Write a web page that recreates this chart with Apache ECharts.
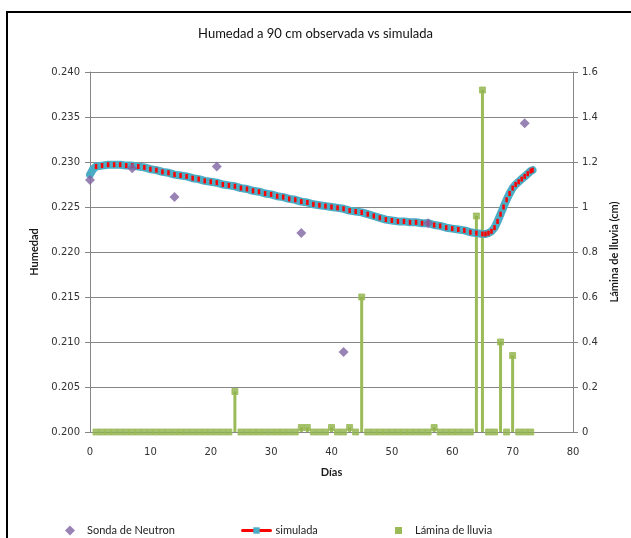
<!DOCTYPE html>
<html>
<head>
<meta charset="utf-8">
<script src="https://cdn.jsdelivr.net/npm/echarts@6/dist/echarts.min.js"></script>
<style>
  html, body { margin: 0; padding: 0; background: #ffffff; }
  #chart { width: 631px; height: 538px; }
</style>
</head>
<body>
<div id="chart"></div>
<script>
// Neutron probe readings (day, soil moisture)
const obsDays   = [0, 7, 14, 21, 35, 42, 56, 72];
const obsValues = [0.2280, 0.2293, 0.2261, 0.2295, 0.2221, 0.2089, 0.2232, 0.2343];

// Simulated soil moisture at 90 cm
const simDays = [0, 0.25, 0.5, 0.75, 1, 2, 3, 4, 5, 6, 7, 8, 9, 10, 11, 12, 13, 14, 15, 16, 17, 18, 19, 20,
  21, 22, 23, 24, 25, 26, 27, 28, 29, 30, 31, 32, 33, 34, 35, 36, 37, 38, 39, 40, 41, 42, 43, 44, 45,
  46, 47, 48, 49, 50, 51, 52, 53, 54, 55, 56, 57, 58, 59, 60, 61, 62, 63, 64, 65, 65.5, 66, 66.5, 67,
  67.5, 68, 68.5, 69, 69.5, 70, 70.5, 71, 71.5, 72, 72.5, 73, 73.3];
const simValues = [0.2286, 0.2289, 0.2292, 0.2294, 0.2295, 0.2296, 0.2297, 0.2297, 0.2297, 0.2296, 0.2296,
  0.2295, 0.2294, 0.2292, 0.2291, 0.2289, 0.2288, 0.2286, 0.2285, 0.2284, 0.2282, 0.2281, 0.2279, 0.2278,
  0.2277, 0.2275, 0.2274, 0.2273, 0.2271, 0.2270, 0.2268, 0.2267, 0.2265, 0.2264, 0.2262, 0.2261, 0.2259,
  0.2258, 0.2256, 0.2255, 0.2253, 0.2252, 0.2251, 0.2250, 0.2249, 0.2248, 0.2246, 0.2245, 0.2244, 0.2242,
  0.2240, 0.2238, 0.2236, 0.2235, 0.2234, 0.2234, 0.2233, 0.2233, 0.2232, 0.2232, 0.2230, 0.2229, 0.2227,
  0.2226, 0.2225, 0.2224, 0.2222, 0.2221, 0.2220, 0.2220, 0.2221, 0.2223, 0.2227, 0.2234, 0.2242, 0.2250,
  0.2258, 0.2265, 0.2271, 0.2275, 0.2278, 0.2281, 0.2284, 0.2287, 0.2290, 0.2291];

// Daily rainfall depth (cm)
const rainDays = [];
for (let d = 1; d <= 73; d++) rainDays.push(d);
const rainEvents = { 24: 0.18, 35: 0.02, 36: 0.02, 40: 0.02, 43: 0.02, 45: 0.60, 57: 0.02,
                     64: 0.96, 65: 1.52, 68: 0.40, 70: 0.34 };
const rainValues = rainDays.map(d => rainEvents[d] || 0);

const leftTicks  = { min: 0.200, max: 0.240, step: 0.005 };
const rightTicks = { min: 0, max: 1.6, step: 0.2 };
const xTicks     = { min: 0, max: 80, step: 10 };

const zip = (a, b) => a.map((v, i) => [v, b[i]]);

const axisGray = '#868686';
const tickFont = { fontFamily: 'DejaVu Sans', fontSize: 10, color: '#333333' };
const nameFont = { fontFamily: 'Lato', fontSize: 11, fontWeight: 'bold', color: '#1a1a1a' };
const legendText = { fontFamily: 'Lato', fontSize: 11, color: '#222222' };

const chart = echarts.init(document.getElementById('chart'), null, { renderer: 'canvas' });

chart.setOption({
  animation: false,
  backgroundColor: '#ffffff',
  title: {
    text: 'Humedad a 90 cm observada vs simulada',
    left: 'center',
    top: 22,
    textStyle: { fontFamily: 'Lato', fontSize: 13, fontWeight: 'normal', color: '#111111' }
  },
  graphic: [{
    type: 'rect',
    shape: { x: 7, y: 12, width: 700, height: 600 },
    style: { fill: 'none', stroke: '#000000', lineWidth: 2 },
    silent: true
  }],
  grid: { left: 90, right: 58, top: 72, bottom: 106 },
  legend: [
    {
      left: 60, top: 520, itemWidth: 10, itemHeight: 10, itemGap: 0,
      textStyle: Object.assign({ padding: [0, 0, 0, 7] }, legendText),
      data: [{ name: 'Sonda de Neutron', icon: 'diamond' }]
    },
    {
      left: 236, top: 520, itemWidth: 28, itemHeight: 8, itemGap: 0,
      textStyle: legendText,
      data: [{
        name: 'simulada',
        lineStyle: { color: '#ff0000', width: 3 },
        itemStyle: { color: '#4bacc6', borderColor: '#4bacc6' }
      }]
    },
    {
      left: 390, top: 520, itemWidth: 7, itemHeight: 7, itemGap: 0,
      textStyle: Object.assign({ padding: [0, 0, 0, 8] }, legendText),
      data: [{ name: 'Lámina de lluvia', icon: 'rect' }]
    }
  ],
  xAxis: {
    type: 'value',
    min: xTicks.min, max: xTicks.max, interval: xTicks.step,
    name: 'Días', nameLocation: 'middle', nameGap: 35,
    nameTextStyle: nameFont,
    axisLine: { show: true, lineStyle: { color: axisGray } },
    axisTick: { show: false },
    splitLine: { show: false },
    axisLabel: Object.assign({ margin: 15 }, tickFont)
  },
  yAxis: [
    {
      type: 'value',
      min: leftTicks.min, max: leftTicks.max, interval: leftTicks.step,
      name: 'Humedad', nameLocation: 'middle', nameGap: 50, nameRotate: 90,
      nameTextStyle: nameFont,
      axisLine: { show: true, lineStyle: { color: axisGray } },
      axisTick: { show: true, length: 5, lineStyle: { color: axisGray } },
      splitLine: { show: true, lineStyle: { color: axisGray, width: 1 } },
      axisLabel: Object.assign({ margin: 10, formatter: v => v.toFixed(3) }, tickFont)
    },
    {
      type: 'value',
      position: 'right',
      min: rightTicks.min, max: rightTicks.max, interval: rightTicks.step,
      name: 'Lámina de lluvia (cm)', nameLocation: 'middle', nameGap: 32, nameRotate: 90,
      nameTextStyle: nameFont,
      axisLine: { show: true, lineStyle: { color: axisGray } },
      axisTick: { show: true, length: 5, lineStyle: { color: axisGray } },
      splitLine: { show: false },
      axisLabel: Object.assign({ margin: 9, formatter: v => String(Math.round(v * 10) / 10) }, tickFont)
    }
  ],
  series: [
    {
      name: 'Lámina de lluvia',
      type: 'bar',
      yAxisIndex: 1,
      barWidth: 3,
      itemStyle: { color: '#9bbb59' },
      data: zip(rainDays, rainValues).filter(p => p[1] > 0),
      z: 2
    },
    {
      name: 'Lámina de lluvia',
      type: 'scatter',
      yAxisIndex: 1,
      symbol: 'rect',
      symbolSize: 6,
      itemStyle: { color: '#8fb24a', borderColor: '#9bbb59', borderWidth: 1 },
      data: zip(rainDays, rainValues),
      z: 3
    },
    {
      name: 'simulada',
      type: 'line',
      yAxisIndex: 0,
      showAllSymbol: true,
      symbol: 'rect',
      // the first sub-daily steps sit too close together for their markers to show
      symbolSize: (val) => (val[0] < 1 ? 0 : [2.5, 5]),
      itemStyle: { color: '#ff0000' },
      lineStyle: { color: '#4bacc6', width: 8, join: 'round', cap: 'round' },
      data: zip(simDays, simValues),
      z: 4
    },
    {
      name: 'Sonda de Neutron',
      type: 'scatter',
      yAxisIndex: 0,
      symbol: 'diamond',
      symbolSize: 10,
      itemStyle: { color: '#8064a2' },
      data: zip(obsDays, obsValues),
      z: 5
    }
  ]
});
</script>
</body>
</html>
